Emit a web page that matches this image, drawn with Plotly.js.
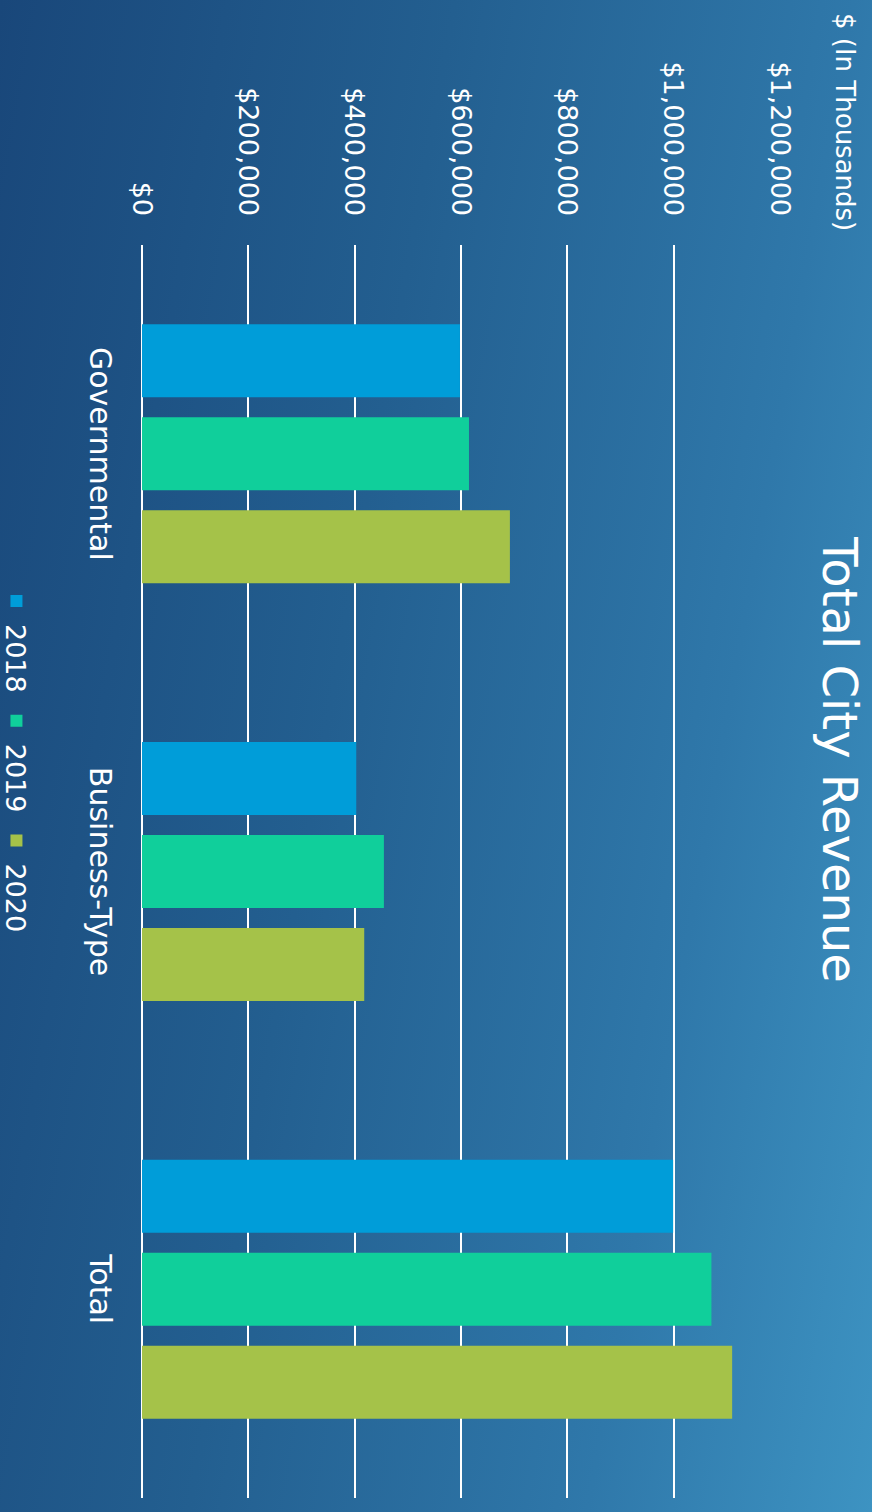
<!DOCTYPE html>
<html>
<head>
<meta charset="utf-8">
<script src="https://cdn.plot.ly/plotly-3.0.1.min.js"></script>
<style>
  html, body { margin: 0; padding: 0; width: 872px; height: 1512px; overflow: hidden; }
  body { background: linear-gradient(100deg, #19477a 0%, #235f90 40%, #2f78aa 75%, #3d93c2 100%); }
  #chart { position: absolute; left: 0; top: 0; width: 1512px; height: 872px;
           transform-origin: 0 0; transform: translate(872px, 0) rotate(90deg); }
</style>
</head>
<body>
<div id="chart"></div>
<script>
const categories = ['Governmental', 'Business-Type', 'Total'];
const years = ['2018', '2019', '2020'];
const rev2018 = [598000, 403000, 999000];
const rev2019 = [615000, 455000, 1071000];
const rev2020 = [692000, 418000, 1110000];
const colors = ['#009DD9', '#10CF9B', '#A5C249'];
const seriesValues = [rev2018, rev2019, rev2020];
const valueTicks = [0, 200000, 400000, 600000, 800000, 1000000, 1200000];
const valueTickLabels = ['$0', '$200,000', '$400,000', '$600,000', '$800,000', '$1,000,000', '$1,200,000'];

const FONT = 'DejaVu Sans, sans-serif';

const traces = years.map((yr, i) => ({
  type: 'bar',
  name: yr,
  x: categories,
  y: seriesValues[i],
  marker: { color: colors[i], line: { width: 0 } },
  hoverinfo: 'skip'
}));

const layout = {
  width: 1512,
  height: 872,
  margin: { l: 245, r: 14, t: 92, b: 142, pad: 0 },
  paper_bgcolor: 'rgba(0,0,0,0)',
  plot_bgcolor: 'rgba(0,0,0,0)',
  font: { family: FONT, color: '#ffffff' },
  barmode: 'group',
  bargap: 0.332,
  bargroupgap: 0.215,
  title: {
    text: 'Total City Revenue',
    font: { family: FONT, size: 48, color: '#ffffff' },
    x: 760 / 1512, xref: 'container', xanchor: 'center',
    y: 1 - 32 / 872, yref: 'container', yanchor: 'middle'
  },
  xaxis: {
    type: 'category',
    showgrid: false,
    zeroline: false,
    showline: false,
    ticks: '',
    tickfont: { family: FONT, size: 30, color: '#ffffff' },
    ticklabelstandoff: 21
  },
  yaxis: {
    range: [0, 1200000],
    tickmode: 'array',
    tickvals: valueTicks,
    ticktext: valueTickLabels,
    tickfont: { family: FONT, size: 27, color: '#ffffff' },
    showgrid: true,
    gridcolor: '#ffffff',
    gridwidth: 2,
    zeroline: true,
    zerolinecolor: '#ffffff',
    zerolinewidth: 2,
    showline: false,
    ticks: '',
    ticklabelstandoff: 28
  },
  legend: {
    orientation: 'h',
    xref: 'container', x: 758 / 1512, xanchor: 'center',
    yref: 'container', y: 1 - 856 / 872, yanchor: 'middle',
    font: { family: FONT, size: 27, color: '#ffffff' },
    bgcolor: 'rgba(0,0,0,0)',
    itemwidth: 36,
    traceorder: 'normal'
  },
  annotations: [{
    text: '$ (In Thousands)',
    xref: 'paper', x: (122 - 245) / 1253, xanchor: 'center',
    yref: 'paper', y: (729.5 - 27) / 637.5, yanchor: 'middle',
    showarrow: false,
    font: { family: FONT, size: 26, color: '#ffffff' }
  }]
};

Plotly.newPlot('chart', traces, layout, { displayModeBar: false, staticPlot: true });
</script>
</body>
</html>
